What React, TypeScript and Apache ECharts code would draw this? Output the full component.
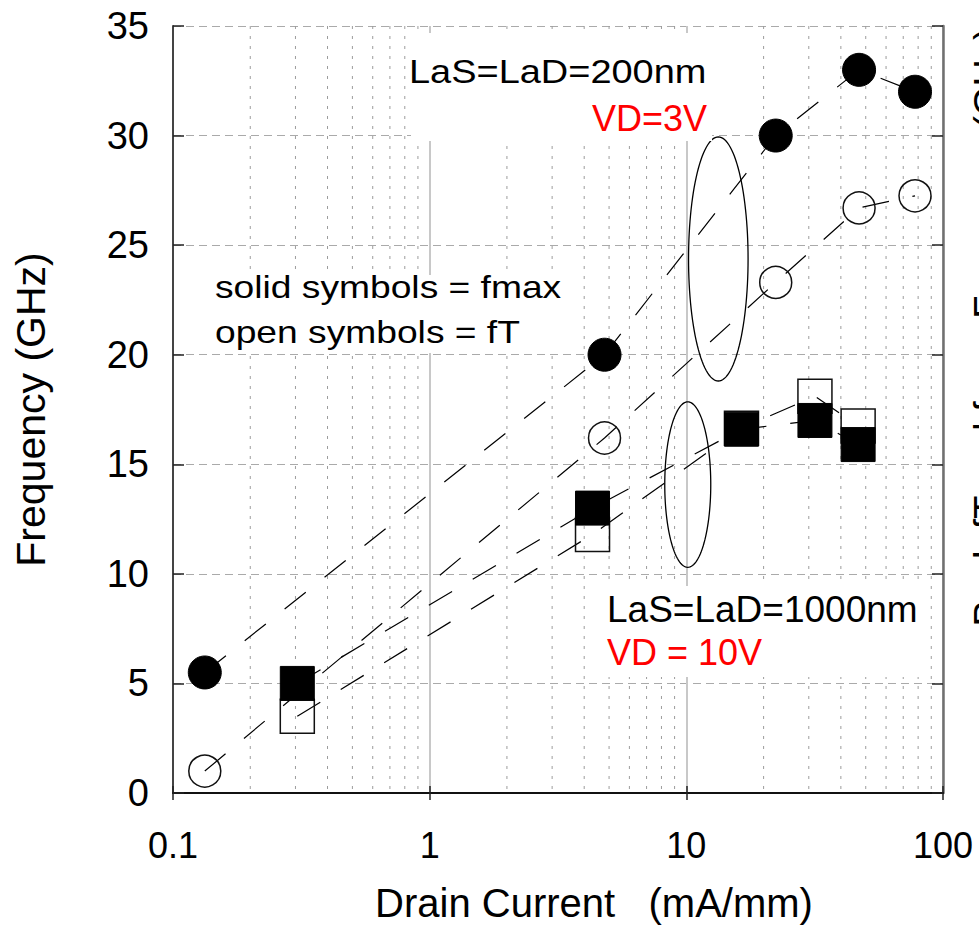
import React, { useEffect, useRef } from "react";
import * as echarts from "echarts";

// ---- data ----
// LaS=LaD=200nm, VD=3V  (circles)
const fmax200: [number, number][] = [
  [0.133, 5.5], [4.8, 20.0], [22.3, 30.0], [47.1, 33.0], [77.8, 32.0],
];
const fT200: [number, number][] = [
  [0.133, 1.0], [4.8, 16.2], [22.3, 23.3], [47.1, 26.7], [77.8, 27.25],
];
// LaS=LaD=1000nm, VD=10V  (squares)
const fmax1000: [number, number][] = [
  [0.305, 5.0], [4.31, 13.0], [16.4, 16.6], [31.7, 17.0], [46.7, 15.9],
];
const fT1000: [number, number][] = [
  [0.305, 3.5], [4.31, 11.8], [16.4, 16.65], [31.7, 18.1], [46.7, 16.75],
];
// ellipses grouping the points: [xLeft, xRight, yBottom, yTop]
const ellipses: [number, number, number, number][] = [
  [10.2, 17.4, 18.8, 29.94],
  [8.24, 12.45, 10.3, 17.85],
];
const xTickLabels = ["0.1", "1", "10", "100"];
const minorXValues = [
  0.2, 0.3, 0.4, 0.5, 0.6, 0.7, 0.8, 0.9,
  2, 3, 4, 5, 6, 7, 8, 9,
  20, 30, 40, 50, 60, 70, 80, 90,
];
const yMin = 0;
const yMax = 35;
const yInterval = 5;

const FONT = "'Liberation Sans', Arial, Helvetica, sans-serif";

export default function App() {
  const ref = useRef<HTMLDivElement>(null);

  useEffect(() => {
    if (!ref.current) return;
    const chart = echarts.init(ref.current, undefined, { renderer: "svg" });

    const dash = [27, 24];
    const lineSeries = (
      name: string,
      data: [number, number][],
      symbol: string,
      size: number,
      solid: boolean
    ) => ({
      name,
      type: "line",
      data,
      symbol,
      symbolSize: size,
      showSymbol: true,
      showAllSymbol: true,
      z: 3,
      silent: true,
      lineStyle: { color: "#000", width: 1.2, type: dash },
      itemStyle: solid
        ? { color: "#000", borderColor: "#000", borderWidth: 1 }
        : { color: "rgba(255,255,255,0)", borderColor: "#111", borderWidth: 1.5 },
      emphasis: { disabled: true },
    });

    const option: any = {
      animation: false,
      backgroundColor: "#fff",
      grid: { left: 173, right: 36, top: 26, bottom: 141, containLabel: false },
      xAxis: [
        {
          type: "log",
          logBase: 10,
          min: 0.1,
          max: 100,
          position: "bottom",
          name: "Drain Current   (mA/mm)",
          nameLocation: "middle",
          nameGap: 90,
          nameTextStyle: {
            fontSize: 40,
            color: "#000",
            fontFamily: FONT,
            padding: [0, 0, 0, 72],
          },
          axisLine: { show: true, lineStyle: { color: "#222", width: 2 } },
          axisTick: { show: true, inside: true, length: 7, lineStyle: { color: "#222", width: 1.5 } },
          axisLabel: {
            fontSize: 36,
            color: "#000",
            fontFamily: FONT,
            margin: 34,
            formatter: (v: number) => {
              const lv = Math.log10(v);
              const f = xTickLabels.find((t) => Math.abs(Math.log10(Number(t)) - lv) < 0.01);
              return f ?? "";
            },
          },
          splitLine: { show: true, lineStyle: { color: "#c8c8c8", width: 2, type: "solid" } },
        },
        {
          type: "log",
          logBase: 10,
          min: 0.1,
          max: 100,
          position: "top",
          axisLine: { show: true, lineStyle: { color: "#111", width: 2 } },
          axisTick: { show: true, inside: true, length: 7, lineStyle: { color: "#222", width: 1.5 } },
          axisLabel: { show: false },
          splitLine: { show: false },
        },
      ],
      yAxis: [
        {
          type: "value",
          min: yMin,
          max: yMax,
          interval: yInterval,
          position: "left",
          name: "Frequency (GHz)",
          nameLocation: "middle",
          nameGap: 122,
          nameTextStyle: { fontSize: 41, color: "#000", fontFamily: FONT },
          axisLine: { show: true, lineStyle: { color: "#444", width: 2 } },
          axisTick: { show: true, inside: true, length: 11, lineStyle: { color: "#222", width: 1.5 } },
          axisLabel: { fontSize: 38, color: "#000", fontFamily: FONT, margin: 24 },
          splitLine: { show: true, lineStyle: { color: "#aaa", width: 1.2, type: [8, 5] } },
        },
        {
          type: "value",
          min: yMin,
          max: yMax,
          interval: yInterval,
          position: "right",
          axisLine: { show: true, lineStyle: { color: "#707070", width: 2.5 } },
          axisTick: { show: true, inside: true, length: 11, lineStyle: { color: "#222", width: 1.5 } },
          axisLabel: { show: false },
          splitLine: { show: false },
        },
      ],
      series: [
        {
          name: "minorGrid",
          type: "custom",
          z: 1,
          silent: true,
          clip: true,
          data: minorXValues.map((v) => [v, 0]),
          encode: { x: 0, y: 1 },
          renderItem: (params: any, api: any) => {
            const x = api.coord([api.value(0), 0])[0];
            const cs = params.coordSys;
            return {
              type: "line",
              shape: { x1: x, y1: cs.y, x2: x, y2: cs.y + cs.height },
              style: { stroke: "#9c9c9c", lineWidth: 1, lineDash: [3, 7] },
            };
          },
        },
        {
          name: "ellipses",
          type: "custom",
          z: 3,
          silent: true,
          data: ellipses,
          encode: { x: [0, 1], y: [2, 3] },
          renderItem: (_params: any, api: any) => {
            const p1 = api.coord([api.value(0), api.value(2)]);
            const p2 = api.coord([api.value(1), api.value(3)]);
            const cx = (p1[0] + p2[0]) / 2;
            const cy = (p1[1] + p2[1]) / 2;
            const rx = Math.abs(p2[0] - p1[0]) / 2;
            const ry = Math.abs(p2[1] - p1[1]) / 2;
            const pts: number[][] = [];
            for (let i = 0; i < 120; i++) {
              const t = (i / 120) * Math.PI * 2;
              pts.push([cx + rx * Math.cos(t), cy + ry * Math.sin(t)]);
            }
            return {
              type: "polygon",
              shape: { points: pts },
              style: { fill: "none", stroke: "#000", lineWidth: 1.3 },
            };
          },
        },
        lineSeries("fT 1000nm", fT1000, "rect", 34, false),
        lineSeries("fT 200nm", fT200, "circle", 32, false),
        lineSeries("fmax 1000nm", fmax1000, "rect", 34, true),
        lineSeries("fmax 200nm", fmax200, "circle", 33, true),
      ],
      graphic: {
        elements: [
          { type: "rect", z: 5, silent: true, shape: { x: 411, y: 33, width: 301, height: 108 }, style: { fill: "#fff" } },
          { type: "rect", z: 5, silent: true, shape: { x: 212, y: 275, width: 350, height: 78 }, style: { fill: "#fff" } },
          { type: "rect", z: 5, silent: true, shape: { x: 603, y: 586, width: 322, height: 91 }, style: { fill: "#fff" } },
          {
            type: "text", z: 6, silent: true, x: 409, y: 71.5, scaleX: 1.15,
            style: { text: "LaS=LaD=200nm", fontSize: 33, fontFamily: FONT, fill: "#000", align: "left", verticalAlign: "middle" },
          },
          {
            type: "text", z: 6, silent: true, x: 707, y: 118.5,
            style: { text: "VD=3V", fontSize: 36, fontFamily: FONT, fill: "#ff0000", align: "right", verticalAlign: "middle" },
          },
          {
            type: "text", z: 6, silent: true, x: 215, y: 287, scaleX: 1.2,
            style: { text: "solid symbols = fmax", fontSize: 31, fontFamily: FONT, fill: "#000", align: "left", verticalAlign: "middle" },
          },
          {
            type: "text", z: 6, silent: true, x: 215, y: 332, scaleX: 1.2,
            style: { text: "open symbols = fT", fontSize: 31, fontFamily: FONT, fill: "#000", align: "left", verticalAlign: "middle" },
          },
          {
            type: "text", z: 6, silent: true, x: 607, y: 609,
            style: { text: "LaS=LaD=1000nm", fontSize: 37, fontFamily: FONT, fill: "#000", align: "left", verticalAlign: "middle" },
          },
          {
            type: "text", z: 6, silent: true, x: 607, y: 652,
            style: { text: "VD = 10V", fontSize: 36, fontFamily: FONT, fill: "#ff0000", align: "left", verticalAlign: "middle" },
          },
          {
            type: "text", z: 6, silent: true, x: 969, y: 327, rotation: Math.PI / 2,
            style: { text: "Peak fT and fmax Frequency (GHz)", fontSize: 38, fontFamily: FONT, fill: "#000", align: "center", verticalAlign: "top" },
          },
        ],
      },
    };

    chart.setOption(option);
    return () => chart.dispose();
  }, []);

  return (
    <div
      ref={ref}
      style={{ position: "fixed", left: 0, top: 0, width: 979, height: 934, background: "#fff" }}
    />
  );
}
